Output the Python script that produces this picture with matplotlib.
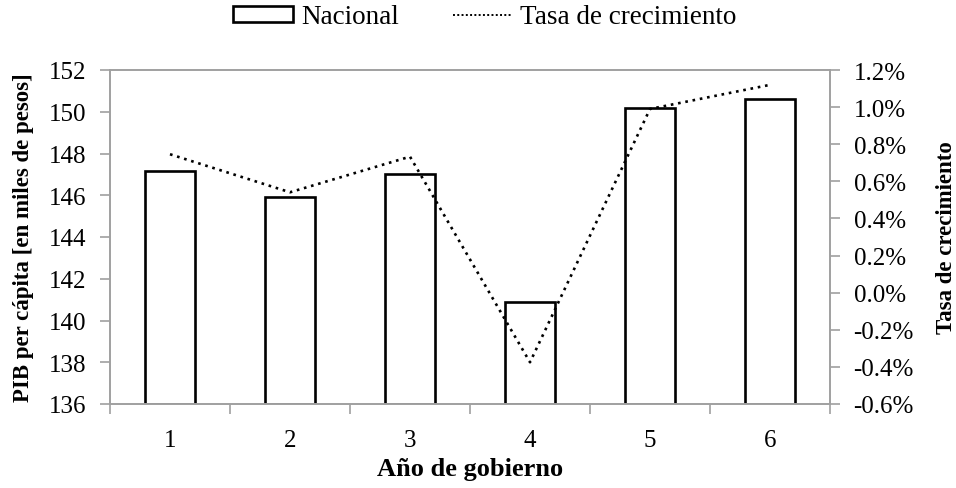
import numpy as np
import matplotlib.pyplot as plt
from matplotlib.patches import Patch
from matplotlib.lines import Line2D
from matplotlib.ticker import FuncFormatter, FixedLocator

plt.rcParams['font.family'] = ['Liberation Serif', 'DejaVu Serif']
plt.rcParams['axes.unicode_minus'] = False

# datos
anios = [1, 2, 3, 4, 5, 6]
pib_nacional = [147.15, 145.9, 147.0, 140.9, 150.2, 150.6]
tasa_crec = [0.746, 0.541, 0.733, -0.375, 0.99, 1.12]

GRIS = '#a0a0a0'
TICK_FS = 18

fig = plt.figure(figsize=(9.56, 4.89), dpi=100)
ax = fig.add_axes([110/956, 1 - 405/489, 720/956, 334/489])
ax2 = ax.twinx()

ax.bar(anios, [v - 136 for v in pib_nacional], bottom=136, width=0.41,
       facecolor='white', edgecolor='black', linewidth=1.9, zorder=2)
ax2.plot(anios, tasa_crec, color='black', linestyle=(0, (1, 1.8)),
         linewidth=1.9, zorder=3)

ax.set_xlim(0.5, 6.5)
ax.set_ylim(136, 152)
ax.set_yticks(np.arange(136, 153, 2))
ax2.set_ylim(-0.6, 1.2)
ax2.set_yticks(np.arange(-0.6, 1.21, 0.2))
ax2.yaxis.set_major_formatter(FuncFormatter(lambda v, p: f"{v:.1f}%"))

ax.set_xticks(anios)
ax.xaxis.set_minor_locator(FixedLocator(np.arange(0.5, 6.6, 1)))
ax.tick_params(axis='x', which='major', length=0, labelsize=TICK_FS, pad=18)
ax.tick_params(axis='x', which='minor', length=7, width=1.2, color=GRIS,
               direction='out')
ax.tick_params(axis='y', length=7, width=1.2, color=GRIS, direction='out',
               labelsize=TICK_FS, pad=10)
ax2.tick_params(axis='y', length=7, width=1.2, color=GRIS, direction='out',
                labelsize=TICK_FS, pad=10)

for a in (ax, ax2):
    for s in a.spines.values():
        s.set_color(GRIS)
        s.set_linewidth(1.2)

ax.set_xlabel('Año de gobierno', fontsize=19, fontweight='bold', labelpad=4)
ax.set_ylabel('PIB per cápita [en miles de pesos]', fontsize=16.5,
              fontweight='bold', labelpad=11)
ax2.set_ylabel('Tasa de crecimiento', fontsize=16.5, fontweight='bold',
               rotation=90, labelpad=16)

handles = [Patch(facecolor='white', edgecolor='black', linewidth=1.9),
           Line2D([0], [0], color='black', linestyle=(0, (1, 1.2)),
                  linewidth=1.4)]
fig.legend(handles, ['Nacional', 'Tasa de crecimiento'], loc='center',
           bbox_to_anchor=(485/956, 1 - 18/489), ncol=2, frameon=False,
           fontsize=19.5, handlelength=2.2, handleheight=0.5,
           columnspacing=2.0, handletextpad=0.3)

fig.savefig('out.png', dpi=100)
